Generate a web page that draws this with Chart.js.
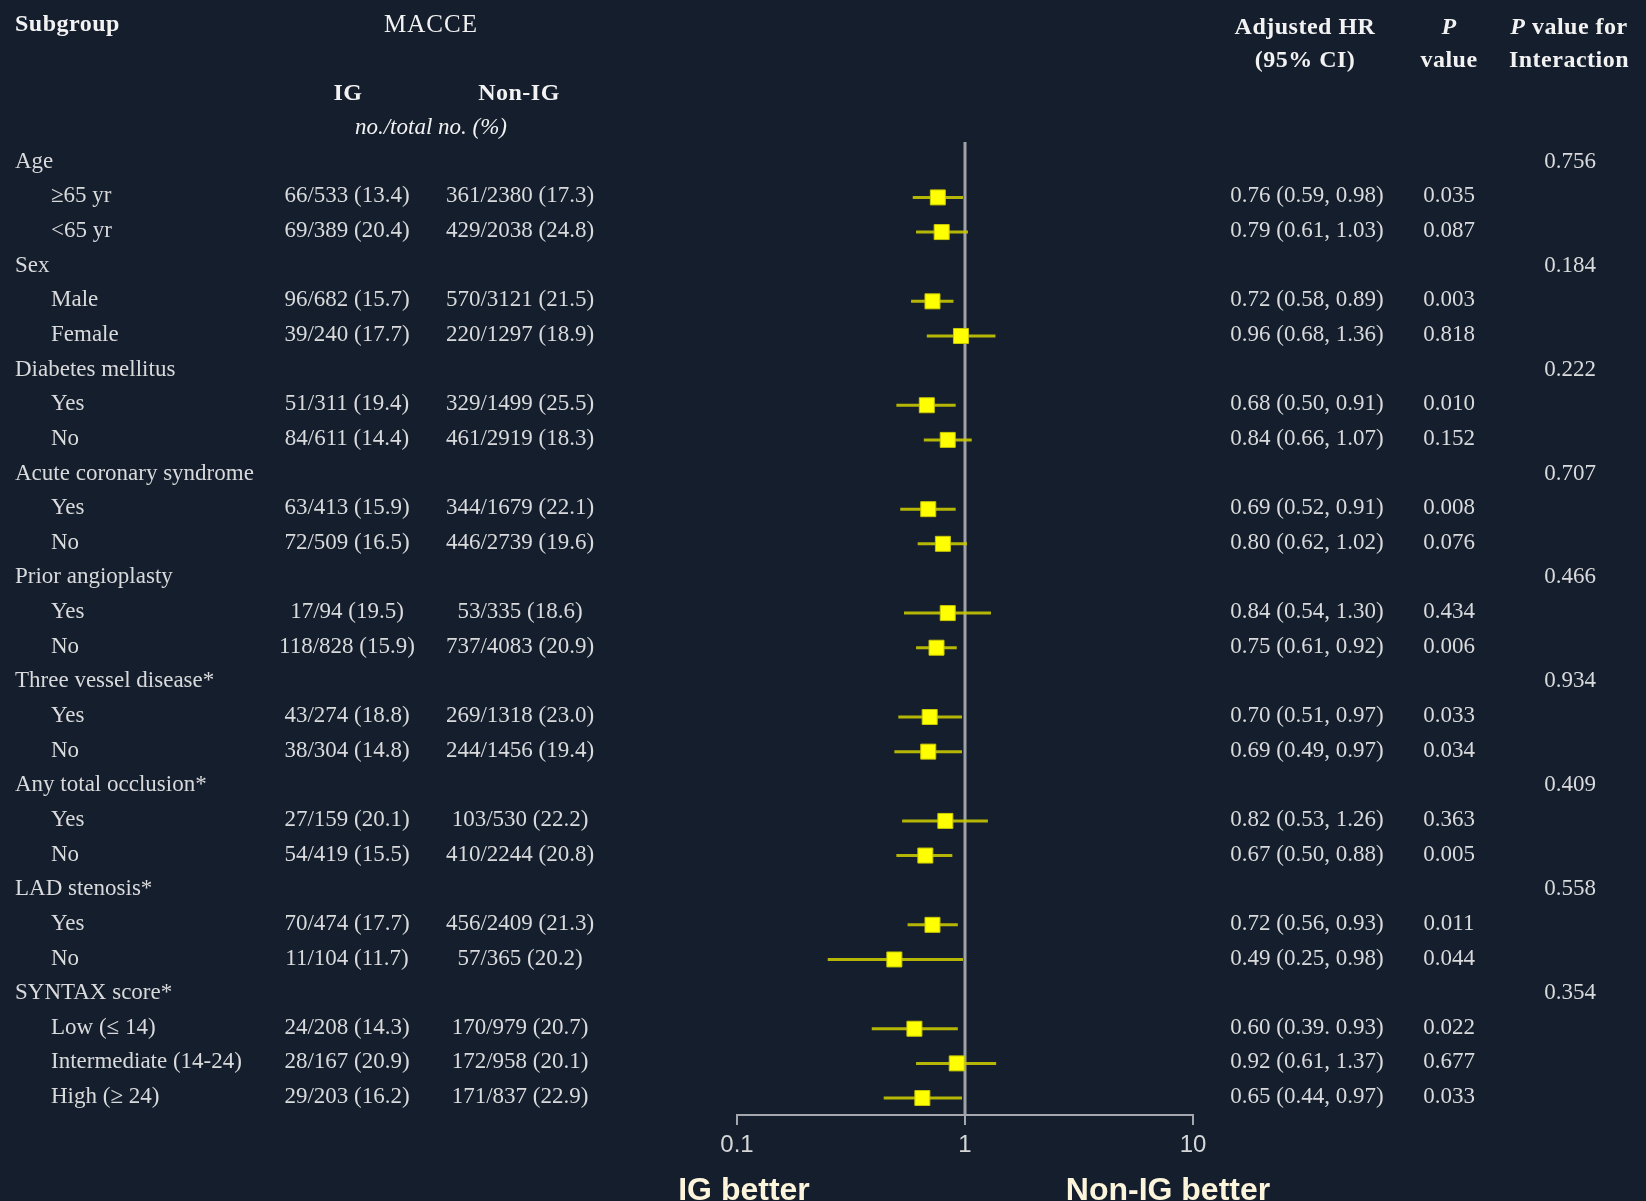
<!DOCTYPE html>
<html>
<head>
<meta charset="utf-8">
<script src="https://cdn.jsdelivr.net/npm/chart.js@4.4.1/dist/chart.umd.min.js"></script>
<style>
  html, body { margin: 0; padding: 0; background: #151e2c; }
  #wrap { width: 1646px; height: 1201px; }
</style>
</head>
<body>
<div id="wrap"><canvas id="forest"></canvas></div>
<script>
// subgroup rows, top to bottom
var subgroups = ['Age', '\u226565 yr', '<65 yr',
    'Sex', 'Male', 'Female',
    'Diabetes mellitus', 'Yes', 'No',
    'Acute coronary syndrome', 'Yes', 'No',
    'Prior angioplasty', 'Yes', 'No',
    'Three vessel disease*', 'Yes', 'No',
    'Any total occlusion*', 'Yes', 'No',
    'LAD stenosis*', 'Yes', 'No',
    'SYNTAX score*', 'Low (\u2264 14)', 'Intermediate (14-24)', 'High (\u2265 24)'];
var isGroup = [1,0,0, 1,0,0, 1,0,0, 1,0,0, 1,0,0, 1,0,0, 1,0,0, 1,0,0, 1,0,0,0];

var igEvents = ['', '66/533 (13.4)', '69/389 (20.4)',
    '', '96/682 (15.7)', '39/240 (17.7)',
    '', '51/311 (19.4)', '84/611 (14.4)',
    '', '63/413 (15.9)', '72/509 (16.5)',
    '', '17/94 (19.5)', '118/828 (15.9)',
    '', '43/274 (18.8)', '38/304 (14.8)',
    '', '27/159 (20.1)', '54/419 (15.5)',
    '', '70/474 (17.7)', '11/104 (11.7)',
    '', '24/208 (14.3)', '28/167 (20.9)', '29/203 (16.2)'];
var nonIgEvents = ['', '361/2380 (17.3)', '429/2038 (24.8)',
    '', '570/3121 (21.5)', '220/1297 (18.9)',
    '', '329/1499 (25.5)', '461/2919 (18.3)',
    '', '344/1679 (22.1)', '446/2739 (19.6)',
    '', '53/335 (18.6)', '737/4083 (20.9)',
    '', '269/1318 (23.0)', '244/1456 (19.4)',
    '', '103/530 (22.2)', '410/2244 (20.8)',
    '', '456/2409 (21.3)', '57/365 (20.2)',
    '', '170/979 (20.7)', '172/958 (20.1)', '171/837 (22.9)'];

var hr = [null, 0.76, 0.79, null, 0.72, 0.96, null, 0.68, 0.84, null, 0.69, 0.80, null, 0.84, 0.75,
          null, 0.70, 0.69, null, 0.82, 0.67, null, 0.72, 0.49, null, 0.60, 0.92, 0.65];
var ciLow = [null, 0.59, 0.61, null, 0.58, 0.68, null, 0.50, 0.66, null, 0.52, 0.62, null, 0.54, 0.61,
             null, 0.51, 0.49, null, 0.53, 0.50, null, 0.56, 0.25, null, 0.39, 0.61, 0.44];
var ciHigh = [null, 0.98, 1.03, null, 0.89, 1.36, null, 0.91, 1.07, null, 0.91, 1.02, null, 1.30, 0.92,
              null, 0.97, 0.97, null, 1.26, 0.88, null, 0.93, 0.98, null, 0.93, 1.37, 0.97];
var hrLabels = ['', '0.76 (0.59, 0.98)', '0.79 (0.61, 1.03)',
    '', '0.72 (0.58, 0.89)', '0.96 (0.68, 1.36)',
    '', '0.68 (0.50, 0.91)', '0.84 (0.66, 1.07)',
    '', '0.69 (0.52, 0.91)', '0.80 (0.62, 1.02)',
    '', '0.84 (0.54, 1.30)', '0.75 (0.61, 0.92)',
    '', '0.70 (0.51, 0.97)', '0.69 (0.49, 0.97)',
    '', '0.82 (0.53, 1.26)', '0.67 (0.50, 0.88)',
    '', '0.72 (0.56, 0.93)', '0.49 (0.25, 0.98)',
    '', '0.60 (0.39. 0.93)', '0.92 (0.61, 1.37)', '0.65 (0.44, 0.97)'];
var pValues = ['', '0.035', '0.087', '', '0.003', '0.818', '', '0.010', '0.152', '', '0.008', '0.076',
    '', '0.434', '0.006', '', '0.033', '0.034', '', '0.363', '0.005', '', '0.011', '0.044',
    '', '0.022', '0.677', '0.033'];
var pInteraction = ['0.756', '', '', '0.184', '', '', '0.222', '', '', '0.707', '', '', '0.466', '', '',
    '0.934', '', '', '0.409', '', '', '0.558', '', '', '0.354', '', '', ''];

var xTicks = [0.1, 1, 10];

// build datasets
var squares = [];
var ciLines = [];
hr.forEach(function (v, i) {
    if (v === null) return;
    squares.push({ x: v, y: i });
    ciLines.push({ x: ciLow[i], y: i });
    ciLines.push({ x: ciHigh[i], y: i });
    ciLines.push({ x: ciHigh[i], y: null });
});

var serif = "'Liberation Serif', 'Times New Roman', serif";
var sans = "'Liberation Sans', Arial, sans-serif";
var textColor = '#d9dadc';
var headColor = '#f2f2f2';

function drawMixed(ctx, parts, cx, y) {
    var total = 0;
    parts.forEach(function (p) { ctx.font = p.font; total += ctx.measureText(p.text).width; });
    var x = cx - total / 2;
    ctx.textAlign = 'left';
    parts.forEach(function (p) {
        ctx.font = p.font;
        ctx.fillText(p.text, x, y);
        x += ctx.measureText(p.text).width;
    });
}

var tablePlugin = {
    id: 'tablePlugin',
    beforeDraw: function (chart) {
        var ctx = chart.ctx;
        ctx.save();
        ctx.fillStyle = '#151e2c';
        ctx.fillRect(0, 0, chart.width, chart.height);
        ctx.restore();
    },
    afterDraw: function (chart) {
        var ctx = chart.ctx;
        var yScale = chart.scales.y;
        var xScale = chart.scales.x;
        var bold = 'bold 24px ' + serif;
        var boldItalic = 'italic bold 24px ' + serif;
        ctx.save();
        ctx.textBaseline = 'middle';
        ctx.fillStyle = headColor;

        // column headers
        ctx.letterSpacing = '0.5px';
        ctx.font = bold;
        ctx.textAlign = 'left';
        ctx.fillText('Subgroup', 15, 25);
        ctx.textAlign = 'center';
        ctx.font = '25px ' + serif;
        ctx.letterSpacing = '1px';
        ctx.fillText('MACCE', 431, 25);
        ctx.letterSpacing = '0.5px';
        ctx.font = bold;
        ctx.fillText('IG', 348, 94);
        ctx.fillText('Non-IG', 519, 94);
        ctx.letterSpacing = '0px';
        ctx.font = 'italic 23px ' + serif;
        ctx.fillText('no./total no. (%)', 431, 128);
        ctx.letterSpacing = '0.5px';
        ctx.font = bold;
        ctx.fillText('Adjusted HR', 1305, 28);
        ctx.fillText('(95% CI)', 1305, 61);
        ctx.font = boldItalic;
        ctx.fillText('P', 1449, 28);
        ctx.font = bold;
        ctx.fillText('value', 1449, 61);
        drawMixed(ctx, [{ text: 'P', font: boldItalic }, { text: ' value for', font: bold }], 1569, 28);
        ctx.textAlign = 'center';
        ctx.font = bold;
        ctx.fillText('Interaction', 1569, 61);
        ctx.letterSpacing = '0px';

        // rows
        ctx.font = '23px ' + serif;
        ctx.fillStyle = textColor;
        subgroups.forEach(function (label, i) {
            var py = yScale.getPixelForValue(i) - 1;
            ctx.textAlign = 'left';
            ctx.fillText(label, isGroup[i] ? 15 : 51, py);
            ctx.textAlign = 'center';
            if (igEvents[i]) ctx.fillText(igEvents[i], 347, py);
            if (nonIgEvents[i]) ctx.fillText(nonIgEvents[i], 520, py);
            if (hrLabels[i]) ctx.fillText(hrLabels[i], 1307, py);
            if (pValues[i]) ctx.fillText(pValues[i], 1449, py);
            if (pInteraction[i]) ctx.fillText(pInteraction[i], 1570, py);
        });

        // direction labels under the axis
        ctx.font = 'bold 32px ' + sans;
        ctx.fillStyle = '#fcf5dc';
        ctx.textBaseline = 'alphabetic';
        ctx.textAlign = 'center';
        ctx.fillText('IG better', xScale.left + 7, 1200);
        ctx.fillText('Non-IG better', 1168, 1200);
        ctx.restore();
    }
};

new Chart(document.getElementById('forest').getContext('2d'), {
    type: 'scatter',
    data: {
        datasets: [
            {
                type: 'line',
                label: 'null line',
                data: [{ x: 1, y: -0.6 }, { x: 1, y: 27.49 }],
                borderColor: '#9ea2a8',
                borderWidth: 3,
                pointRadius: 0,
                order: 3
            },
            {
                type: 'line',
                label: '95% CI',
                data: ciLines,
                borderColor: 'rgba(200, 200, 0, 0.9)',
                borderWidth: 3,
                pointRadius: 0,
                spanGaps: false,
                order: 2
            },
            {
                label: 'Adjusted HR',
                data: squares,
                pointStyle: 'rect',
                pointRadius: 10.6,
                backgroundColor: '#ffff00',
                borderColor: '#c9c900',
                borderWidth: 1,
                order: 1
            }
        ]
    },
    options: {
        responsive: true,
        maintainAspectRatio: false,
        animation: false,
        events: [],
        layout: { padding: { left: 737, right: 453, top: 142, bottom: 0 } },
        plugins: { legend: { display: false }, tooltip: { enabled: false } },
        scales: {
            x: {
                type: 'logarithmic',
                position: 'bottom',
                min: 0.1,
                max: 10,
                afterBuildTicks: function (scale) {
                    scale.ticks = xTicks.map(function (v) { return { value: v }; });
                },
                afterFit: function (scale) { scale.height = 86; },
                ticks: {
                    color: '#d6d7d9',
                    font: { family: sans, size: 24 },
                    padding: 6,
                    maxRotation: 0,
                    callback: function (v) { return String(v); }
                },
                grid: {
                    drawOnChartArea: false,
                    drawTicks: true,
                    tickLength: 10,
                    color: '#a4a8ae',
                    lineWidth: 2
                },
                border: { display: true, color: '#a4a8ae', width: 2 }
            },
            y: {
                type: 'linear',
                display: false,
                reverse: true,
                min: -0.6,
                max: 27.49
            }
        }
    },
    plugins: [tablePlugin]
});
</script>
</body>
</html>
